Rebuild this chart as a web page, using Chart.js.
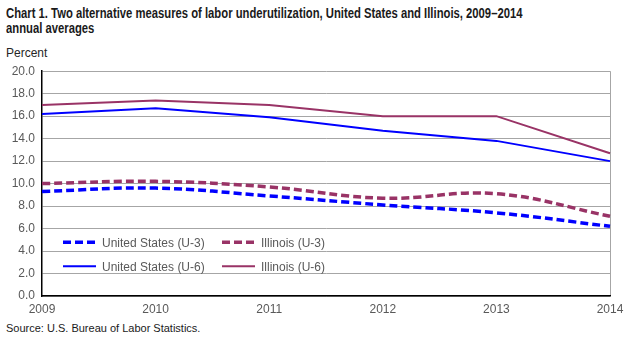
<!DOCTYPE html>
<html>
<head>
<meta charset="utf-8">
<script src="https://cdn.jsdelivr.net/npm/chart.js@4.4.1/dist/chart.umd.min.js"></script>
<style>
  html, body { margin: 0; padding: 0; background: #fff; }
  body { width: 633px; height: 341px; position: relative; overflow: hidden;
         font-family: 'Liberation Sans', Arial, sans-serif; }
  /* the original title uses a narrow face: squeeze Liberation Sans to the same width */
  .title { position: absolute; left: 6px; top: 6px; white-space: nowrap;
           font-weight: bold; font-size: 14px; line-height: 15px; color: #1a1a1a;
           transform-origin: 0 0; transform: scaleX(0.805); }
  .unit { position: absolute; left: 6px; top: 46px; font-size: 12px; color: #262626; }
  .source { position: absolute; left: 6px; top: 322px; font-size: 11px; color: #1a1a1a; }
  .wrap { position: absolute; left: 0; top: 57px; width: 633px; height: 263px; }
</style>
</head>
<body>
<div class="title">Chart 1. Two alternative measures of labor underutilization, United States and Illinois, 2009–2014<br>annual averages</div>
<div class="unit">Percent</div>
<div class="wrap"><canvas id="chart"></canvas></div>
<div class="source">Source: U.S. Bureau of Labor Statistics.</div>

<script>
'use strict';

/* ── data ── */
const YEARS      = ['2009', '2010', '2011', '2012', '2013', '2014'];
const US_U3      = [9.3, 9.6, 8.9, 8.1, 7.4, 6.2];
const IL_U3      = [10.0, 10.2, 9.7, 8.7, 9.1, 7.1];
const US_U6      = [16.2, 16.7, 15.9, 14.7, 13.8, 12.0];
const IL_U6      = [17.0, 17.4, 17.0, 16.0, 16.0, 12.7];

const BLUE   = '#0000ff';
const MAROON = '#993366';
const GRID   = '#a6a6a6';
const TICK   = '#595959';

/* ── legend drawn inside plot area, 2 columns ── */
const insideLegend = {
  id: 'insideLegend',
  afterDatasetsDraw(chart) {
    const { ctx, chartArea } = chart;
    const rows = [chartArea.top + 171, chartArea.top + 195];
    const cols = [chartArea.left + 21, chartArea.left + 180];
    ctx.save();
    ctx.font = "12px 'Liberation Sans', Arial, sans-serif";
    ctx.textBaseline = 'middle';
    chart.data.datasets.forEach((ds, i) => {
      const x = cols[i % 2], y = rows[Math.floor(i / 2)];
      ctx.beginPath();
      ctx.strokeStyle = ds.borderColor;
      ctx.lineWidth = ds.borderWidth;
      ctx.setLineDash(ds.borderDash || []);
      ctx.moveTo(x, y);
      ctx.lineTo(x + 33, y);
      ctx.stroke();
      ctx.setLineDash([]);
      ctx.fillStyle = TICK;
      ctx.fillText(ds.label, x + 39, y + 1);
    });
    ctx.restore();
  }
};

function lineSet(label, data, color, dashed) {
  return {
    label, data,
    borderColor: color,
    backgroundColor: color,
    borderWidth: dashed ? 3.5 : 2,
    borderDash: dashed ? [8, 4] : [],
    tension: dashed ? 0.4 : 0,
    pointRadius: 0,
    fill: false,
  };
}

new Chart(document.getElementById('chart'), {
  type: 'line',
  data: {
    labels: YEARS,
    datasets: [
      lineSet('United States (U-3)', US_U3, BLUE, true),
      lineSet('Illinois (U-3)',      IL_U3, MAROON, true),
      lineSet('United States (U-6)', US_U6, BLUE, false),
      lineSet('Illinois (U-6)',      IL_U6, MAROON, false),
    ]
  },
  options: {
    responsive: true,
    maintainAspectRatio: false,
    animation: false,
    layout: { padding: { top: 8, right: 23, left: 0, bottom: 0 } },
    plugins: { legend: { display: false }, tooltip: { enabled: false } },
    scales: {
      x: {
        offset: false,
        grid: {
          drawTicks: false,
          color: (c) => c.index === YEARS.length - 1 ? GRID : 'rgba(0,0,0,0)',
        },
        border: { color: '#000', width: 1.5 },
        ticks: { color: TICK, font: { size: 12, family: "'Liberation Sans', Arial, sans-serif" }, padding: 6, maxRotation: 0 },
        afterFit: (s) => { s.height = 24; }
      },
      y: {
        min: 0, max: 20,
        ticks: {
          stepSize: 2,
          color: TICK,
          font: { size: 12, family: "'Liberation Sans', Arial, sans-serif" },
          padding: 7,
          callback: (v) => v.toFixed(1)
        },
        grid: { drawTicks: false, color: GRID },
        border: { color: '#000', width: 1.5 },
        afterFit: (s) => { s.width = 42; }
      }
    }
  },
  plugins: [insideLegend]
});
</script>
</body>
</html>
